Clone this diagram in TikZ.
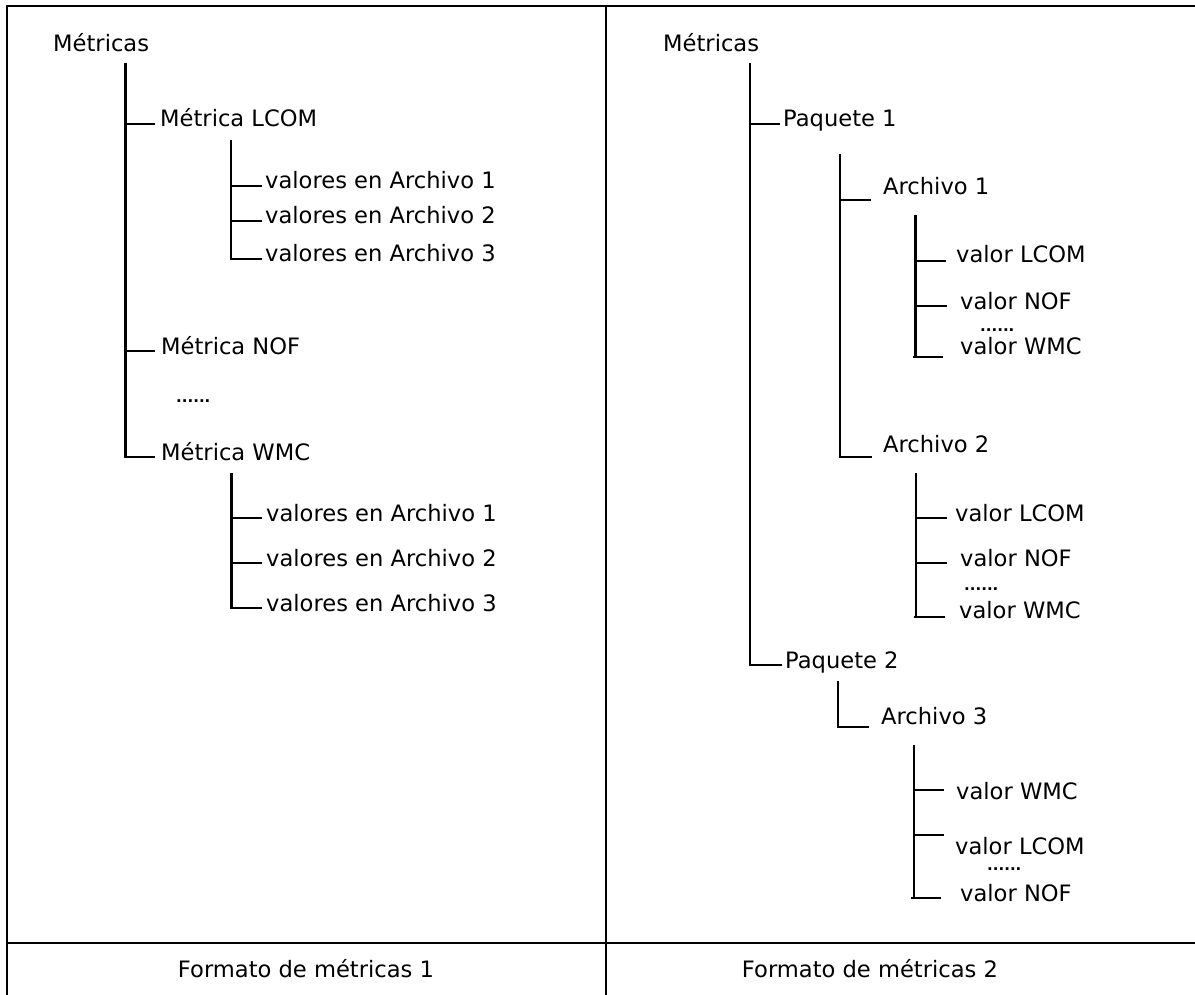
\documentclass[tikz,border=0pt]{standalone}
\usepackage{fontspec}
\setmainfont{DejaVu Sans}
\begin{document}
\begin{tikzpicture}[x=1pt,y=-1pt,
  lbl/.style={anchor=base west,inner sep=0pt,font=\fontsize{22.6}{27}\selectfont},
  dotsl/.style={anchor=base west,inner sep=0pt,font=\fontsize{15}{18}\selectfont\bfseries},
  foot/.style={anchor=base,inner sep=0pt,font=\fontsize{22.6}{27}\selectfont},
  tree/.style={line width=2.1pt},
  frame/.style={line width=2.4pt}]
\useasboundingbox (0,0) rectangle (1195,995);

% table frame
\draw[frame] (7,995) -- (7,6) -- (1195,6);
\draw[frame] (606,6) -- (606,995);
\draw[frame] (7,943) -- (1195,943);

% ---------- first layout: by metric ----------
\node[lbl] (mA) at (53,52) {Métricas};
\coordinate (tA) at (125.5,63);
\node[lbl] (lcom) at (160,127) {Métrica LCOM};
\coordinate (eLcom) at (155,124);
\node[lbl] (nof) at (161,354) {Métrica NOF};
\coordinate (eNof) at (155,351);
\node[dotsl] (dA) at (176,402) {......};
\node[lbl] (wmc) at (161,460) {Métrica WMC};
\coordinate (eWmc) at (155,457);
\draw[tree] (tA) |- (eWmc);
\draw[tree] (tA |- eLcom) -- (eLcom);
\draw[tree] (tA |- eNof) -- (eNof);

% files under LCOM
\coordinate (tL) at (231,140);
\node[lbl] (l1) at (265,189) {valores en Archivo 1};
\node[lbl] (l2) at (265,224) {valores en Archivo 2};
\node[lbl] (l3) at (265,262) {valores en Archivo 3};
\coordinate (eL1) at (262,186);
\coordinate (eL2) at (262,221);
\coordinate (eL3) at (262,259);
\draw[tree] (tL) |- (eL3);
\draw[tree] (tL |- eL1) -- (eL1);
\draw[tree] (tL |- eL2) -- (eL2);

% files under WMC
\coordinate (tW) at (231.5,473);
\node[lbl] (w1) at (266,521) {valores en Archivo 1};
\node[lbl] (w2) at (266,566) {valores en Archivo 2};
\node[lbl] (w3) at (266,611) {valores en Archivo 3};
\coordinate (eW1) at (262,518);
\coordinate (eW2) at (262,563);
\coordinate (eW3) at (262,608);
\draw[tree] (tW) |- (eW3);
\draw[tree] (tW |- eW1) -- (eW1);
\draw[tree] (tW |- eW2) -- (eW2);

% ---------- second layout: by package ----------
\node[lbl] (mB) at (663,52) {Métricas};
\coordinate (tB) at (750,63);
\node[lbl] (p1) at (783,127) {Paquete 1};
\coordinate (eP1) at (780,124.3);
\node[lbl] (p2) at (785,668) {Paquete 2};
\coordinate (eP2) at (782,665);
\draw[tree] (tB) |- (eP2);
\draw[tree] (tB |- eP1) -- (eP1);

% files in package 1
\coordinate (tP1) at (840,154);
\node[lbl] (a1) at (883,195) {Archivo 1};
\coordinate (eA1) at (871,200);
\node[lbl] (a2) at (883,452) {Archivo 2};
\coordinate (eA2) at (872,457);
\draw[tree] (tP1) |- (eA2);
\draw[tree] (tP1 |- eA1) -- (eA1);

% values in file 1
\coordinate (tA1) at (915.5,215);
\node[lbl] (a1v1) at (956,263) {valor LCOM};
\node[lbl] (a1v2) at (960,309) {valor NOF};
\node[dotsl] (a1d) at (980,331) {......};
\node[lbl] (a1v3) at (960,354) {valor WMC};
\coordinate (eA1v1) at (946,261);
\coordinate (eA1v2) at (946.5,306);
\coordinate (eA1v3) at (943,357);
\draw[tree] (tA1) -- (tA1 |- eA1v3);
\draw[tree] ([xshift=-3pt]tA1 |- eA1v3) -- (eA1v3);
\draw[tree] (tA1 |- eA1v1) -- (eA1v1);
\draw[tree] (tA1 |- eA1v2) -- (eA1v2);

% values in file 2
\coordinate (tA2) at (916,473);
\node[lbl] (a2v1) at (955,521) {valor LCOM};
\node[lbl] (a2v2) at (960,566) {valor NOF};
\node[dotsl] (a2d) at (964,590) {......};
\node[lbl] (a2v3) at (959,618) {valor WMC};
\coordinate (eA2v1) at (947,518);
\coordinate (eA2v2) at (947,563);
\coordinate (eA2v3) at (945,617);
\draw[tree] (tA2) -- (tA2 |- eA2v3);
\draw[tree] ([xshift=-2pt]tA2 |- eA2v3) -- (eA2v3);
\draw[tree] (tA2 |- eA2v1) -- (eA2v1);
\draw[tree] (tA2 |- eA2v2) -- (eA2v2);

% files in package 2
\coordinate (tP2) at (838,681);
\node[lbl] (a3) at (881,724) {Archivo 3};
\coordinate (eA3) at (869,727);
\draw[tree] (tP2) |- (eA3);

% values in file 3
\coordinate (tA3) at (914,745);
\node[lbl] (a3v1) at (956,799) {valor WMC};
\node[lbl] (a3v2) at (955,854) {valor LCOM};
\node[dotsl] (a3d) at (987,870) {......};
\node[lbl] (a3v3) at (960,901) {valor NOF};
\coordinate (eA3v1) at (944,790);
\coordinate (eA3v2) at (944,835);
\coordinate (eA3v3) at (941,898);
\draw[tree] (tA3) -- (tA3 |- eA3v3);
\draw[tree] ([xshift=-3pt]tA3 |- eA3v3) -- (eA3v3);
\draw[tree] (tA3 |- eA3v1) -- (eA3v1);
\draw[tree] (tA3 |- eA3v2) -- (eA3v2);

% captions
\node[foot] (fA) at (306,977) {Formato de métricas 1};
\node[foot] (fB) at (870,977) {Formato de métricas 2};
\end{tikzpicture}
\end{document}
